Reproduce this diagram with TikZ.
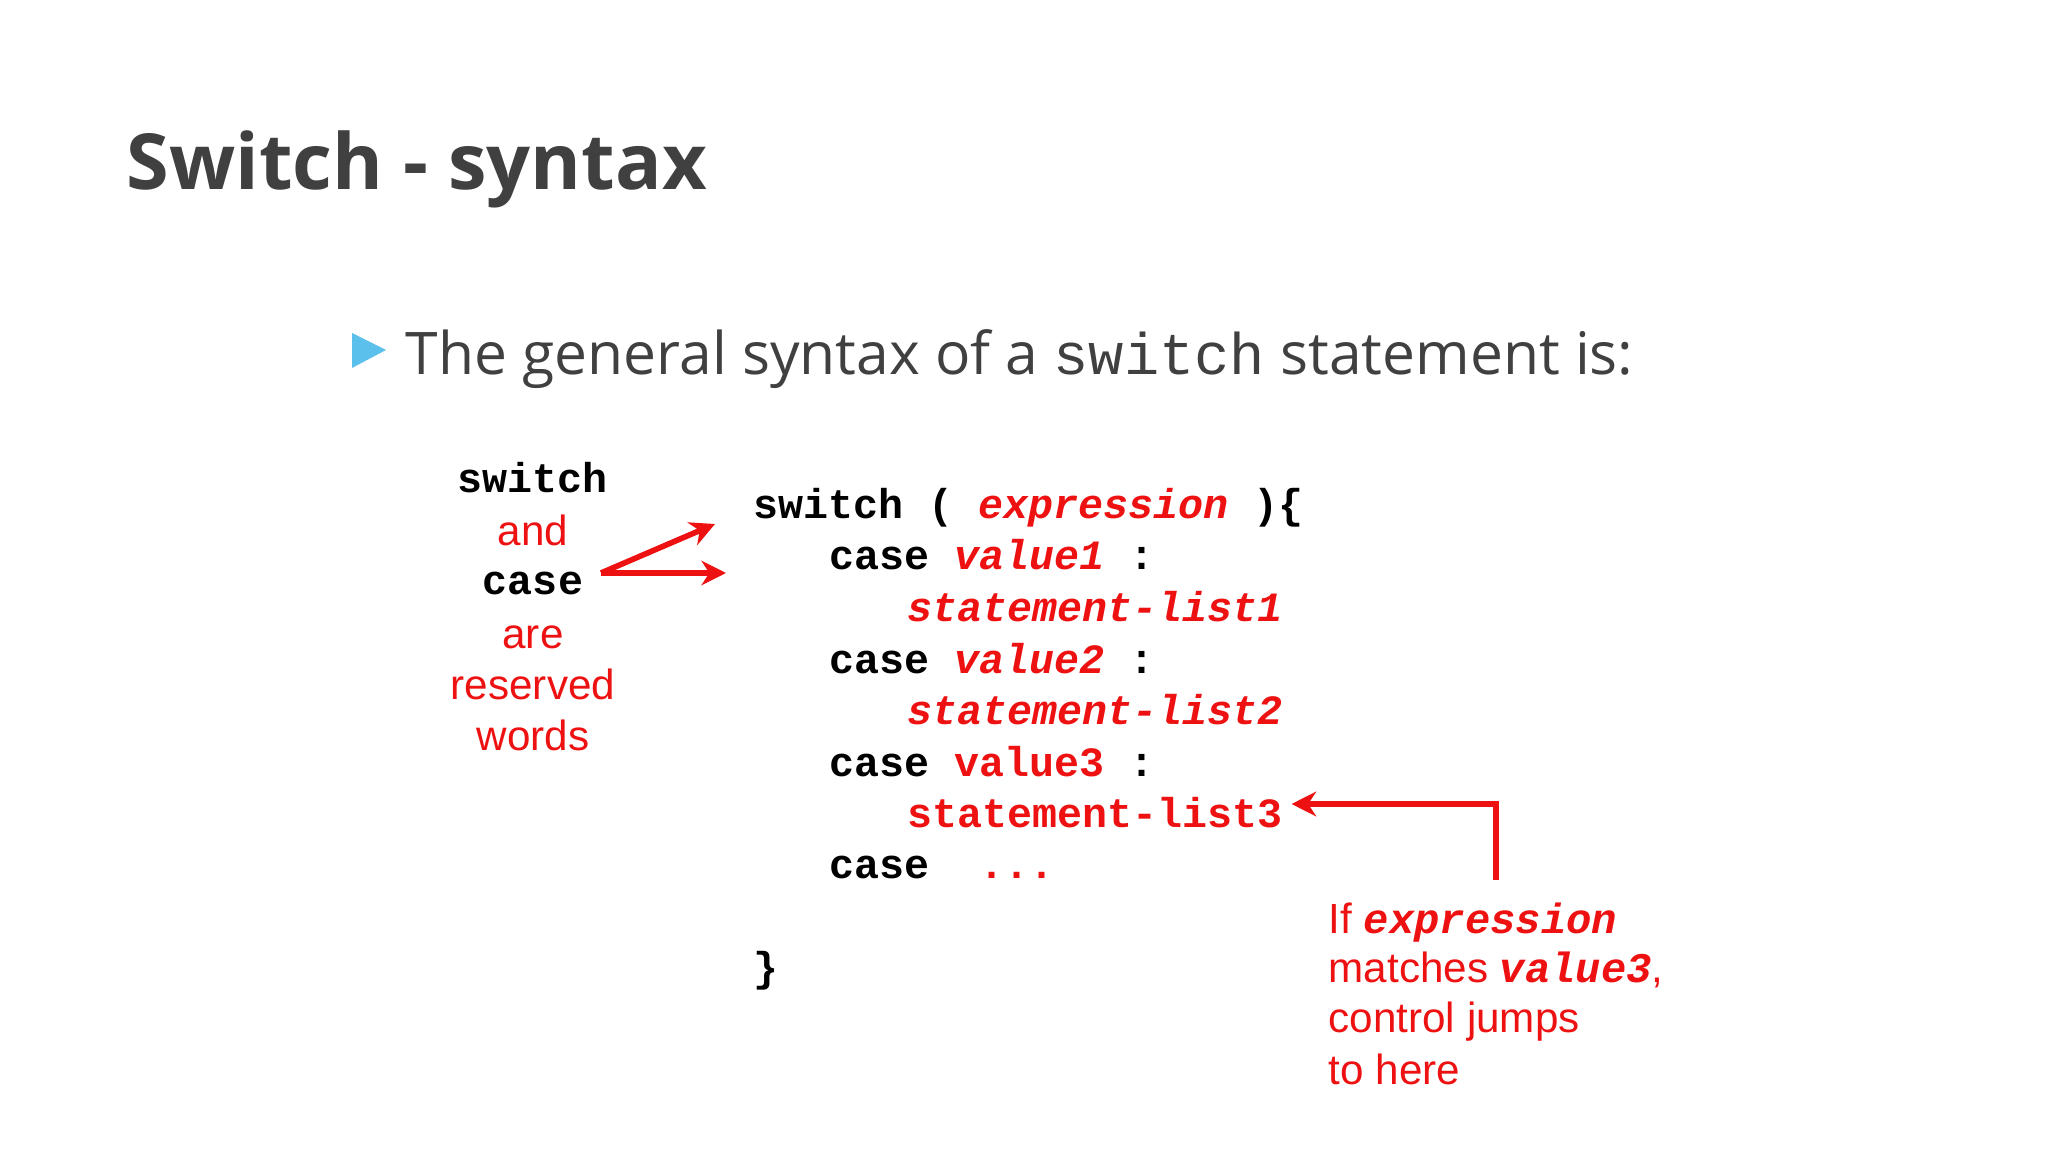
\documentclass[tikz,border=0pt]{standalone}
\usepackage{fontspec}
\usetikzlibrary{arrows.meta}
\setmainfont{Open Sans}
\newfontfamily\arial{Liberation Sans}
\newfontfamily\cour{Liberation Mono}
\definecolor{txt}{HTML}{404040}
\definecolor{myred}{HTML}{EE1111}
\definecolor{tri}{HTML}{5BC0EB}
\begin{document}
\begin{tikzpicture}[x=0.01cm,y=-0.01cm,
  code/.style={anchor=base west,inner sep=0,font=\cour\bfseries\fontsize{11.85}{14}\selectfont},
  lbl/.style={anchor=base,inner sep=0,font=\arial\fontsize{12}{14}\selectfont,text=myred},
  note/.style={anchor=base west,inner sep=0,font=\arial\fontsize{12}{14}\selectfont,text=myred},
  arr/.style={myred,line width=1.6pt,-{Stealth[length=7pt,width=7pt]}}]
\useasboundingbox (0,0) rectangle (2048,1152);
\node[anchor=base west,inner sep=0,text=txt,font=\bfseries\fontsize{22}{26}\selectfont] (title) at (126,190) {Switch - syntax};
\fill[tri] (352,333) -- (386,350) -- (352,368) -- cycle;
\node[anchor=base west,inner sep=0,text=txt,font=\fontsize{16.7}{20}\selectfont] (intro) at (405,375) {The general syntax of a {\cour switch} statement is:};
% left labels
\node[lbl,text=black,font=\cour\bfseries\fontsize{11.85}{14}\selectfont] (l1) at (533,493) {switch};
\node[lbl] (l2) at (533,545) {and};
\node[lbl,text=black,font=\cour\bfseries\fontsize{11.85}{14}\selectfont] (l3) at (533,594) {case};
\node[lbl] (l4) at (533,648) {are};
\node[lbl] (l5) at (533,699) {reserved};
\node[lbl] (l6) at (533,750) {words};
\coordinate (as) at (601,573);
\coordinate (a1) at (715,524);
\coordinate (a2) at (726,573);
\draw[arr] (as) -- (a1);
\draw[arr] (as) -- (a2);
% code
\node[code] (c1) at (753,519) {switch ( \textcolor{myred}{\itshape expression} )\{};
\node[code] (c2) at (829,570) {case \textcolor{myred}{\itshape value1} :};
\node[code,text=myred] (c3) at (907,622) {\itshape statement-list1};
\node[code] (c4) at (829,673) {case \textcolor{myred}{\itshape value2} :};
\node[code,text=myred] (c5) at (907,724) {\itshape statement-list2};
\node[code] (c6) at (829,776) {case \textcolor{myred}{value3} :};
\node[code,text=myred] (c7) at (907,827) {statement-list3};
\node[code] (c8) at (829,878) {case\ \ \textcolor{myred}{ ...}};
\node[code] (c9) at (753,981) {\}};
% note
\node[note] (n1) at (1328,933) {If {\cour\bfseries\itshape expression}};
\node[note] (n2) at (1328,982) {matches {\cour\bfseries\itshape value3},};
\node[note] (n3) at (1328,1032) {control jumps};
\node[note] (n4) at (1328,1084) {to here};
\coordinate (b1) at (1496,880);
\coordinate (b2) at (1496,804);
\draw[arr] (b1) -- (b2) -- ([xshift=0.08cm]c7.east |- b2);
\end{tikzpicture}
\end{document}
